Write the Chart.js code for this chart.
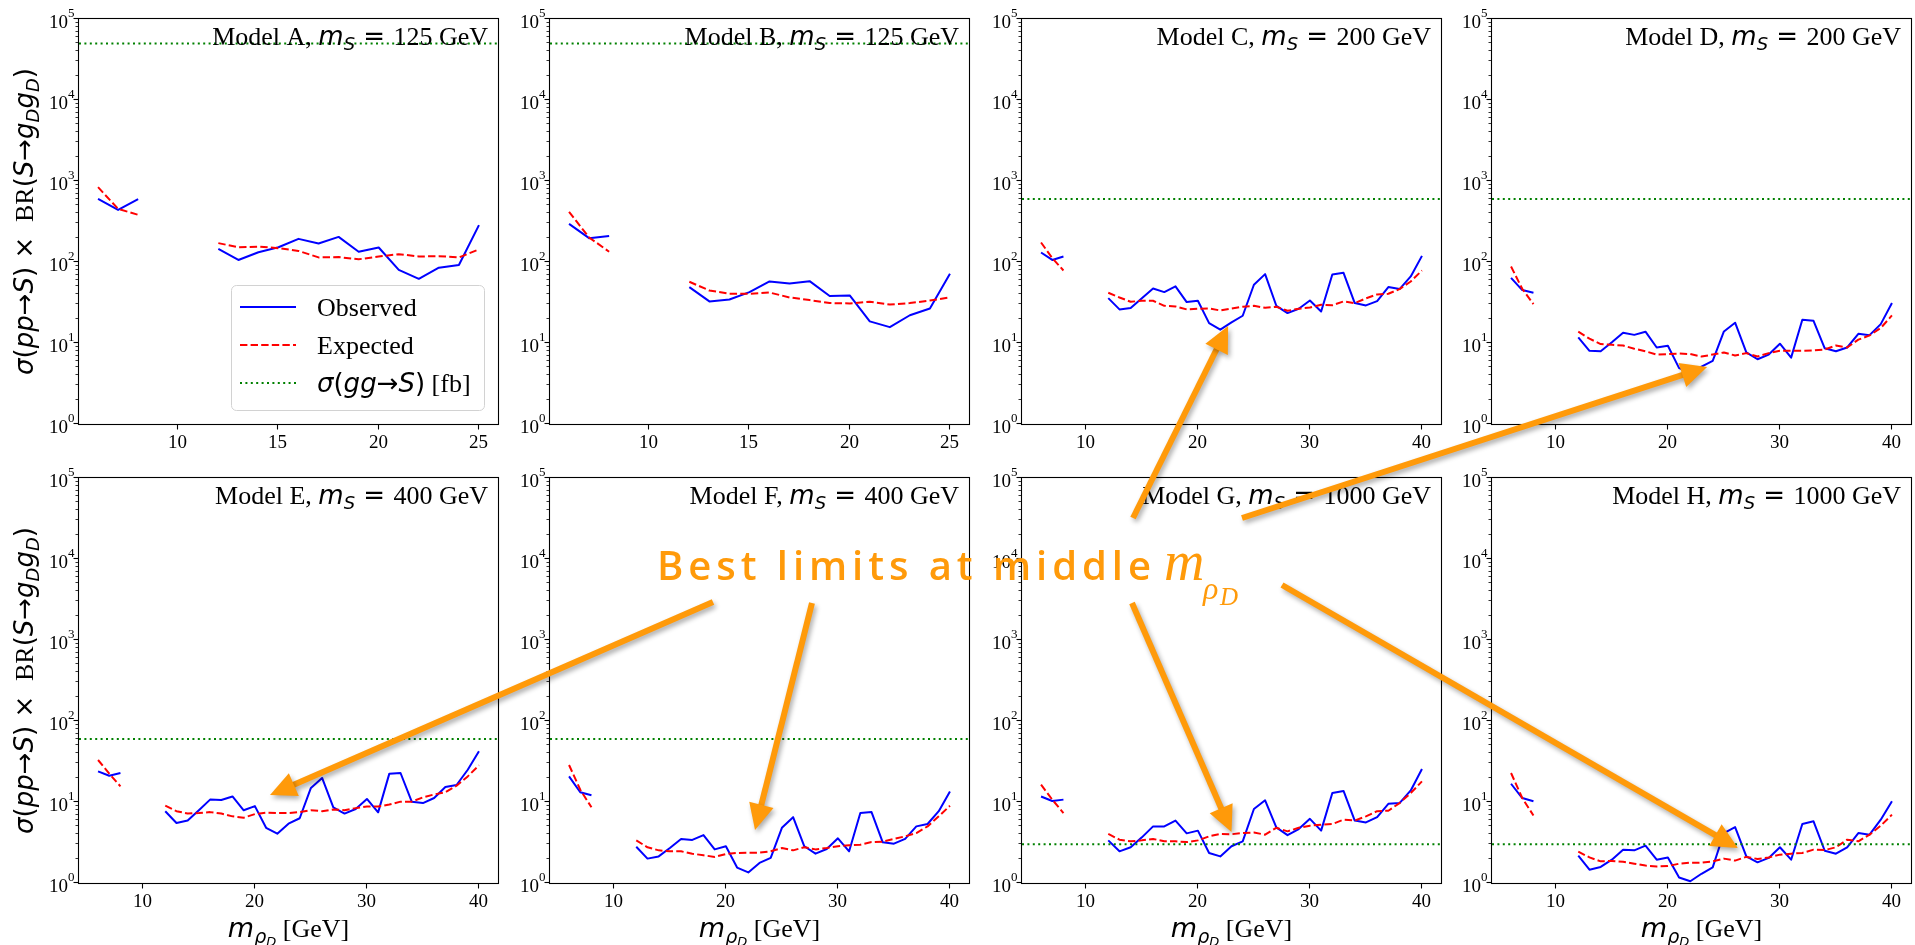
<!DOCTYPE html>
<html><head><meta charset="utf-8">
<script src="https://cdn.jsdelivr.net/npm/chart.js@4.4.1/dist/chart.umd.min.js"></script>
<style>
html,body{margin:0;padding:0;background:#fff;width:1915px;height:945px;overflow:hidden;position:relative;}
canvas{position:absolute;}
</style></head><body>
<script>
// ---------------- DATA ----------------
const massAB = [6,7,8,9,10,11,12,13,14,15,16,17,18,19,20,21,22,23,24,25];
const massCH = [6,7,8,9,10,11,12,13,14,15,16,17,18,19,20,21,22,23,24,25,26,27,28,29,30,31,32,33,34,35,36,37,38,39,40];
const modelNames = ['A','B','C','D','E','F','G','H'];
const massS = [125,125,200,200,400,400,1000,1000];
const sigmaGG = [50000,50000,600,600,60,60,3,3];
const xTicksAB = [10,15,20,25];
const xTicksCH = [10,20,30,40];
const yTicks = [1,10,100,1000,10000,100000];

const obsA = [600,440,597,null,null,null,145,106,132,152,193,169,204,134,151,80,62,85,92,285];
const expA = [839,453,382,null,null,null,171,152,155,148,137,114,115,108,117,125,117,118,114,143];
const obsB = [296,197,210,null,null,null,49,32.6,34.5,42.5,57.5,54.4,58,38,38.7,18.5,15.7,22,26.7,71.5];
const expB = [416,201,134,null,null,null,57,44.5,40.5,40.5,42,36.5,33.9,31.1,30.8,32.3,29.9,31.1,33.5,36.5];
const obsC = [131,106,117,null,null,null,35.8,26,27,35.8,47,42.5,50,32,33.2,17.6,14.6,18,21.7,52.4,70.8,28.8,23.4,26.5,33.5,24.5,70.2,73.6,31.1,29.1,32.9,49,46.3,66.3,119];
const expC = [174,112,78.6,null,null,null,41.7,36.5,32.3,33.2,33.2,28.8,28.3,26,26.5,26.7,25.2,26.7,28,28.8,27.2,28,25,26.5,27.5,29.7,29.3,32.6,31.1,35.5,39.8,40.5,46.3,57.5,78.6];
const obsD = [63.8,45,41.7,null,null,null,11.7,8.0,7.9,10.2,13.4,12.6,13.8,8.8,9.25,4.9,4.3,5.1,6.0,13.9,17.8,7.65,6.3,7.2,9.8,6.6,19.4,18.8,8.6,7.9,8.8,13,12.5,17.1,31.1];
const expD = [88,46.7,30.2,null,null,null,13.8,11.3,9.7,9.5,9.3,8.5,7.9,7.2,7.3,7.4,7.3,6.8,7.2,7.65,7.0,7.5,6.8,7.5,8.0,8.0,8.0,8.1,8.3,9.3,8.8,11,12.4,15.3,21.9];
const obsE = [23.9,21.1,22.8,null,null,null,7.7,5.5,5.9,7.9,10.7,10.6,11.7,7.9,8.9,4.8,4.06,5.4,6.3,14.9,19.8,8.6,7.2,8.2,10.9,7.45,22.4,22.8,10.1,9.7,11.2,15.3,16.2,25,42.2];
const expE = [33,22.4,15.6,null,null,null,9.0,7.7,7.2,7.3,7.5,7.2,6.65,6.4,7.1,7.4,7.3,7.3,7.5,7.9,7.7,8.1,7.9,8.4,8.8,8.8,9.3,10.1,10.1,11.4,12.4,13.2,15.9,20.7,28.4];
const obsF = [20.7,13.2,12.1,null,null,null,2.8,2.0,2.13,2.7,3.5,3.4,3.9,2.6,2.84,1.55,1.35,1.77,2.04,4.8,6.5,2.84,2.3,2.63,3.56,2.46,7.3,7.5,3.18,3.06,3.5,5.0,5.35,7.7,13.5];
const expF = [28.6,14.2,8.6,null,null,null,3.36,2.76,2.53,2.46,2.46,2.3,2.2,2.1,2.28,2.35,2.37,2.37,2.46,2.7,2.53,2.76,2.6,2.7,2.84,2.92,2.97,3.2,3.24,3.5,3.77,4.14,5.0,6.65,9.0];
const obsG = [11.7,10.3,10.7,null,null,null,3.36,2.46,2.76,3.66,5.0,5.0,5.9,4.1,4.43,2.35,2.13,2.84,3.27,8.2,10.5,4.87,3.9,4.64,6.2,4.43,12.9,13.7,5.9,5.6,6.5,9.5,9.7,13.9,25.5];
const expG = [16.4,10.7,7.3,null,null,null,4.03,3.43,3.27,3.36,3.5,3.27,3.27,3.2,3.36,3.77,4.03,4.0,4.14,4.2,3.95,4.8,4.34,4.8,5.1,5.25,5.35,6.05,5.9,6.65,7.7,7.8,9.7,12.9,18];
const obsH = [16.8,11.2,10.2,null,null,null,2.17,1.46,1.58,1.94,2.58,2.53,2.89,1.94,2.07,1.17,1.05,1.3,1.56,4.14,4.9,2.13,1.8,2.04,2.76,1.94,5.35,5.77,2.5,2.3,2.76,4.14,3.95,6.05,10.2];
const expH = [22.8,11.2,6.8,null,null,null,2.44,2.07,1.85,1.87,1.83,1.73,1.64,1.6,1.62,1.73,1.78,1.78,1.85,2.0,1.89,2.1,1.98,2.07,2.24,2.3,2.35,2.58,2.55,2.76,3.43,3.27,3.95,5.1,6.98];

// annotation: arrow targets in data coordinates of a panel, starts in page pixels
const noteText = 'Best limits at middle';
const arrowPanels = ['E','F','C','D','G','H'];
const arrowTipX = [21.35,22.6,22.7,23.5,23.0,26.25];
const arrowTipY = [12.2,4.5,16.2,5.06,4.26,2.7];
const arrowStartX = [713,812,1133,1242,1132,1282];
const arrowStartY = [602,603,518,518,603,585];

// ---------------- LAYOUT / STYLE ----------------
const SERIF = '"Liberation Serif","Times New Roman",serif';
const SANS = '"DejaVu Sans",sans-serif';
const colLeft = [79,550,1022,1492];
const rowTop = [19,478];
const W = 419, H = 405;
const padL = 79, padR = 4, padT = 19, padB = 62;

const obsList = [obsA,obsB,obsC,obsD,obsE,obsF,obsG,obsH];
const expList = [expA,expB,expC,expD,expE,expF,expG,expH];

function measureSegs(ctx, segs){ let w=0; segs.forEach(s=>{ctx.font=s.f; s.w=ctx.measureText(s.t).width + (s.dx||0); w+=s.w;}); return w; }
function drawSegs(ctx, segs, x, y){ segs.forEach(s=>{ ctx.font=s.f; ctx.fillText(s.t, x+(s.dx||0), y+(s.dy||0)); x+=s.w; }); }

function decor(p){
  return {
    id:'decor',
    afterDraw(chart){
      const ctx = chart.ctx, a = chart.chartArea, xs = chart.scales.x, ys = chart.scales.y;
      ctx.save();
      ctx.fillStyle = '#000'; ctx.strokeStyle = '#000';
      ctx.textBaseline = 'alphabetic';
      ctx.lineWidth = 1.1;
      ctx.strokeRect(a.left-0.5, a.top-0.5, a.right-a.left+1, a.bottom-a.top+1);
      yTicks.forEach(v=>{
        const py = Math.round(ys.getPixelForValue(v))-0.5;
        ctx.lineWidth = 1.1;
        ctx.beginPath(); ctx.moveTo(a.left-5.5, py); ctx.lineTo(a.left-0.5, py); ctx.stroke();
        const e = Math.round(Math.log10(v));
        ctx.font = '19px '+SERIF; ctx.textAlign='right';
        ctx.fillText('10', a.left-11, py+9);
        ctx.font = '13px '+SERIF; ctx.textAlign='left';
        ctx.fillText(String(e), a.left-11, py-2);
      });
      for(let e=0;e<5;e++){
        for(let k=2;k<10;k++){
          const py = Math.round(ys.getPixelForValue(k*Math.pow(10,e)))-0.5;
          ctx.lineWidth = 0.8;
          ctx.beginPath(); ctx.moveTo(a.left-3.5, py); ctx.lineTo(a.left-0.5, py); ctx.stroke();
        }
      }
      ctx.textAlign='center';
      p.xticks.forEach(v=>{
        const px = Math.round(xs.getPixelForValue(v))-0.5;
        ctx.lineWidth = 1.1;
        ctx.beginPath(); ctx.moveTo(px, a.bottom+0.5); ctx.lineTo(px, a.bottom+5.5); ctx.stroke();
        ctx.font = '19px '+SERIF;
        ctx.fillText(String(v), px, a.bottom+24);
      });
      ctx.textAlign='left';
      const tsegs = [
        {t:'Model '+p.name+', ', f:'26px '+SERIF},
        {t:'m', f:'italic 26px '+SANS},
        {t:'S', f:'italic 18px '+SANS, dy:5},
        {t:' = ', f:'26px '+SANS},
        {t:p.mS+' GeV', f:'26px '+SERIF}
      ];
      const tw = measureSegs(ctx, tsegs);
      drawSegs(ctx, tsegs, a.right-10-tw, a.top+26);
      if(p.col===0){
        const ysegs = [
          {t:'σ', f:'italic 26px '+SANS},{t:'(', f:'26px '+SANS},{t:'pp', f:'italic 26px '+SANS},
          {t:'→', f:'26px '+SANS},{t:'S', f:'italic 26px '+SANS},{t:')', f:'26px '+SANS},
          {t:' × ', f:'26px '+SANS},{t:' BR', f:'26px '+SERIF},{t:'(', f:'26px '+SANS},
          {t:'S', f:'italic 26px '+SANS},{t:'→', f:'26px '+SANS},{t:'g', f:'italic 26px '+SANS},
          {t:'D', f:'italic 18px '+SANS, dy:6},{t:'g', f:'italic 26px '+SANS},
          {t:'D', f:'italic 18px '+SANS, dy:6},{t:')', f:'26px '+SANS}
        ];
        const yw = measureSegs(ctx, ysegs);
        ctx.save();
        ctx.translate(a.left-46, (a.top+a.bottom)/2);
        ctx.rotate(-Math.PI/2);
        drawSegs(ctx, ysegs, -yw/2, 0);
        ctx.restore();
      }
      if(p.row===1){
        const xsegs = [
          {t:'m', f:'italic 27px '+SANS},{t:'ρ', f:'italic 19px '+SANS, dy:6},
          {t:'D', f:'italic 13px '+SANS, dy:9},{t:' [GeV]', f:'26px '+SERIF}
        ];
        const xw = measureSegs(ctx, xsegs);
        drawSegs(ctx, xsegs, (a.left+a.right)/2 - xw/2, a.bottom+54);
      }
      if(p.legend){
        const lw = 253, lh = 125;
        const bx = a.right-14-lw, by = a.bottom-14-lh;
        ctx.beginPath();
        if(ctx.roundRect) ctx.roundRect(bx+0.5,by+0.5,lw,lh,5); else ctx.rect(bx+0.5,by+0.5,lw,lh);
        ctx.fillStyle='rgba(255,255,255,0.8)'; ctx.fill();
        ctx.strokeStyle='#d2d2d2'; ctx.lineWidth=1; ctx.stroke();
        const ds = chart.data.datasets;
        const labels = [
          [{t:'Observed', f:'26px '+SERIF}],
          [{t:'Expected', f:'26px '+SERIF}],
          [{t:'σ', f:'italic 26px '+SANS},{t:'(', f:'26px '+SANS},{t:'gg', f:'italic 26px '+SANS},{t:'→', f:'26px '+SANS},{t:'S', f:'italic 26px '+SANS},{t:')', f:'26px '+SANS},{t:' [fb]', f:'26px '+SERIF}]
        ];
        labels.forEach((segs,r)=>{
          const y = by+22+38*r;
          const d = ds[r];
          ctx.save();
          ctx.strokeStyle = d.borderColor; ctx.lineWidth = d.borderWidth;
          ctx.setLineDash(d.borderDash||[]);
          ctx.beginPath(); ctx.moveTo(bx+9,y); ctx.lineTo(bx+65,y); ctx.stroke();
          ctx.restore();
          ctx.fillStyle='#000';
          measureSegs(ctx, segs);
          drawSegs(ctx, segs, bx+86, y+9);
        });
      }
      ctx.restore();
    }
  };
}

const charts = {};
const canvasPos = {};
modelNames.forEach((name,i)=>{
  const col = i%4, row = Math.floor(i/4);
  const xs = i<2 ? massAB : massCH;
  const p = {name, mS:massS[i], x:xs, obs:obsList[i], exp:expList[i], sig:sigmaGG[i],
             xticks: i<2 ? xTicksAB : xTicksCH, col, row, legend: i===0};
  const cv = document.createElement('canvas');
  cv.width = padL+W+padR; cv.height = padT+H+padB;
  const left = colLeft[col]-padL, top = rowTop[row]-padT;
  cv.style.left = left+'px'; cv.style.top = top+'px';
  document.body.appendChild(cv);
  canvasPos[name] = {left, top};
  const xmin = Math.min(...xs), xmax = Math.max(...xs), m = 0.05*(xmax-xmin);
  charts[name] = new Chart(cv, {
    type:'line',
    data:{datasets:[
      {label:'Observed', data: xs.map((x,k)=>({x, y:p.obs[k]})), borderColor:'#0000ff', borderWidth:2, order:3},
      {label:'Expected', data: xs.map((x,k)=>({x, y:p.exp[k]})), borderColor:'#ff0000', borderWidth:2, borderDash:[7.4,3.2], order:2},
      {label:'σ(gg→S) [fb]', data:[{x:xmin-m, y:p.sig},{x:xmax+m, y:p.sig}], borderColor:'#008000', borderWidth:2, borderDash:[2,3.4], order:1}
    ]},
    options:{
      responsive:false, maintainAspectRatio:false, animation:false, devicePixelRatio:1, events:[],
      layout:{padding:{left:padL,right:padR,top:padT,bottom:padB}},
      spanGaps:false,
      elements:{point:{radius:0, hoverRadius:0}, line:{tension:0, fill:false, borderJoinStyle:'round'}},
      scales:{
        x:{type:'linear', min:xmin-m, max:xmax+m, display:false},
        y:{type:'logarithmic', min:1, max:1e5, display:false}
      },
      plugins:{legend:{display:false}, tooltip:{enabled:false}, title:{display:false}}
    },
    plugins:[decor(p)]
  });
});

// ---------------- ANNOTATION OVERLAY ----------------
const ov = document.createElement('canvas');
ov.width = 1915; ov.height = 945;
ov.style.left='0px'; ov.style.top='0px'; ov.style.zIndex='10';
document.body.appendChild(ov);
const octx = ov.getContext('2d');
const ORANGE = '#ff9a0a';

function arrow(ctx,x1,y1,x2,y2){
  const ang = Math.atan2(y2-y1,x2-x1), hl=26, hw=12.5;
  const bx = x2-hl*Math.cos(ang), by = y2-hl*Math.sin(ang);
  ctx.beginPath(); ctx.moveTo(x1,y1); ctx.lineTo(bx+2*Math.cos(ang),by+2*Math.sin(ang)); ctx.stroke();
  ctx.beginPath(); ctx.moveTo(x2,y2);
  ctx.lineTo(bx+hw*Math.sin(ang), by-hw*Math.cos(ang));
  ctx.lineTo(bx-hw*Math.sin(ang), by+hw*Math.cos(ang));
  ctx.closePath(); ctx.fill();
}
octx.save();
octx.strokeStyle = ORANGE; octx.fillStyle = ORANGE; octx.lineWidth = 6; octx.lineCap='butt';
octx.shadowColor='rgba(0,0,0,0.33)'; octx.shadowBlur=5; octx.shadowOffsetX=2; octx.shadowOffsetY=3;
arrowPanels.forEach((pn,i)=>{
  const ch = charts[pn], pos = canvasPos[pn];
  const tx = pos.left + ch.scales.x.getPixelForValue(arrowTipX[i]);
  const ty = pos.top + ch.scales.y.getPixelForValue(arrowTipY[i]);
  arrow(octx, arrowStartX[i], arrowStartY[i], tx, ty);
});
octx.restore();

// annotation text
octx.fillStyle = ORANGE;
octx.textBaseline='alphabetic';
octx.font = '600 40px "Open Sans","Noto Sans",sans-serif';
const nat = octx.measureText(noteText).width;
const target = 494;
const sp = Math.max(0,(target-nat)/(noteText.length-1));
const sx = nat > target ? target/nat : 1;
for(let i=0;i<noteText.length;i++){
  const x = 657 + (octx.measureText(noteText.slice(0,i)).width)*sx + i*sp;
  octx.save(); octx.translate(x,580); octx.scale(sx,1); octx.fillText(noteText[i],0,0); octx.restore();
}
octx.font = 'italic 56px "Liberation Serif",serif';
octx.fillText('m', 1164, 580);
octx.font = 'italic 32px "Liberation Serif",serif';
octx.fillText('ρ', 1203, 599);
octx.font = 'italic 25px "Liberation Serif",serif';
octx.fillText('D', 1220, 605);
</script>
</body></html>
